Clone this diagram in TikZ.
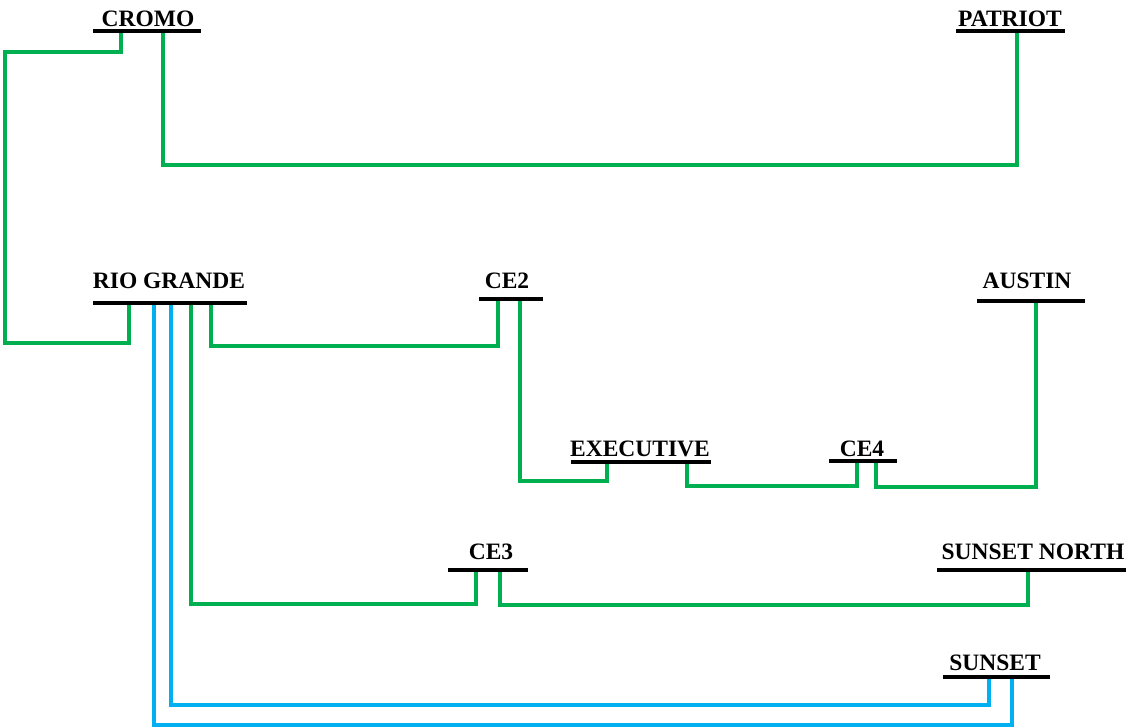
\documentclass[tikz,border=0pt]{standalone}
\usepackage{fontspec}
\setmainfont{Liberation Serif}
\begin{document}
\begin{tikzpicture}[x=1pt,y=-1pt,
  bar/.style={fill=black,draw=none,inner sep=0pt,minimum height=3.8pt},
  lbl/.style={anchor=base,inner sep=0pt,font=\fontsize{23.5}{23.5}\selectfont\bfseries},
  g/.style={draw={rgb,255:red,0;green,176;blue,80},line width=3.2pt},
  b/.style={draw={rgb,255:red,0;green,176;blue,240},line width=3.2pt}]
\useasboundingbox (0,0) rectangle (1128,728);
% bars
\node[bar,minimum width=108pt] (cromo) at (147,31) {};
\node[bar,minimum width=109pt] (patriot) at (1010.5,31) {};
\node[bar,minimum width=154pt] (rio) at (170,303) {};
\node[bar,minimum width=64pt] (ce2) at (511,299) {};
\node[bar,minimum width=108pt] (austin) at (1031,301) {};
\node[bar,minimum width=140pt] (exec) at (641,462) {};
\node[bar,minimum width=68pt] (ce4) at (863,461) {};
\node[bar,minimum width=80pt] (ce3) at (488,570) {};
\node[bar,minimum width=189pt] (snorth) at (1031.5,570) {};
\node[bar,minimum width=107pt] (sunset) at (996.5,677) {};
% labels
\node[lbl] (cromoL) at (148,26) {CROMO};
\node[lbl] (patriotL) at (1010,26) {PATRIOT};
\node[lbl] (rioL) at (169,288) {RIO GRANDE};
\node[lbl] (ce2L) at (507,288) {CE2};
\node[lbl] (austinL) at (1027,288) {AUSTIN};
\node[lbl] (execL) at (640,456) {EXECUTIVE};
\node[lbl] (ce4L) at (862,456) {CE4};
\node[lbl] (ce3L) at (491,559) {CE3};
\node[lbl] (snorthL) at (1033,559) {SUNSET NORTH};
\node[lbl] (sunsetL) at (995,670) {SUNSET};
% green connectors
\draw[g] (cromo.south -| 121,0) |- (5,52) |- (129,343) -- (rio.south -| 129,0);
\draw[g] (cromo.south -| 163,0) |- (1017,165) -- (patriot.south -| 1017,0);
\draw[g] (rio.south -| 211,0) |- (498,346) -- (ce2.south -| 498,0);
\draw[g] (ce2.south -| 520,0) |- (607,481) -- (exec.south -| 607,0);
\draw[g] (exec.south -| 687,0) |- (857,486) -- (ce4.south -| 857,0);
\draw[g] (ce4.south -| 876,0) |- (1036,487) -- (austin.south -| 1036,0);
\draw[g] (rio.south -| 191,0) |- (476,604) -- (ce3.south -| 476,0);
\draw[g] (ce3.south -| 500,0) |- (1028,605) -- (snorth.south -| 1028,0);
% blue connectors
\draw[b] (rio.south -| 171,0) |- (989,705) -- (sunset.south -| 989,0);
\draw[b] (rio.south -| 154,0) |- (1012,725) -- (sunset.south -| 1012,0);
\end{tikzpicture}
\end{document}
